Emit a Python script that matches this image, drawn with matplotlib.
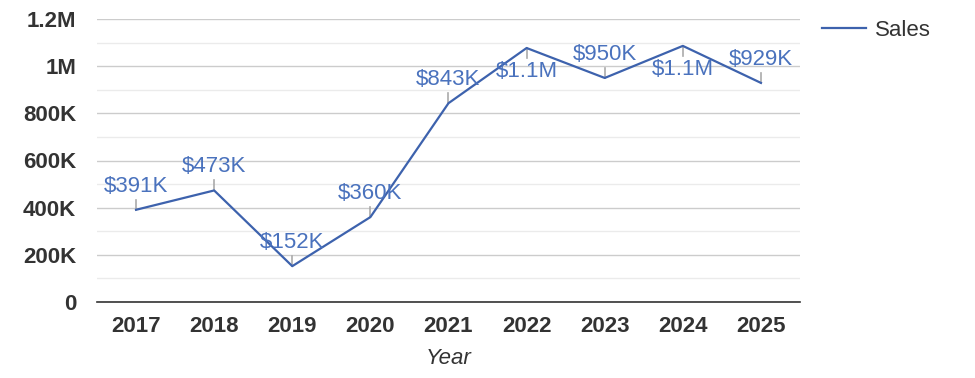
import matplotlib
matplotlib.use("Agg")
import matplotlib.pyplot as plt
from matplotlib.ticker import MultipleLocator

years = ["2017", "2018", "2019", "2020", "2021", "2022", "2023", "2024", "2025"]
sales = [391000, 473000, 152000, 360000, 843000, 1077000, 950000, 1086000, 929000]
y_ticks = [0, 200000, 400000, 600000, 800000, 1000000, 1200000]
y_tick_labels = ["0", "200K", "400K", "600K", "800K", "1M", "1.2M"]

plt.rcParams['font.family'] = ['Liberation Sans', 'DejaVu Sans']

LINE = "#3d62ad"
LABEL = "#4a72bd"
W, H = 975, 378
fig = plt.figure(figsize=(W / 100, H / 100), dpi=100)
ax = fig.add_axes([97 / W, 1 - 302 / H, (800 - 97) / W, (302 - 19) / H])

x = list(range(len(years)))
ax.plot(x, sales, color=LINE, lw=1.6, label="Sales", zorder=3)

def fmt(v):
    if v >= 1_000_000:
        return f"${v / 1e6:.1f}M"
    return f"${v / 1000:.0f}K"

px = 1.2e6 / 283  # data units per pixel
for xi, v in zip(x, sales):
    below = v > 1.05e6
    d = -1 if below else 1
    ax.plot([xi, xi], [v, v + d * 10 * px], color="#aaaaaa", lw=1.2, zorder=2)
    ax.text(xi, v + d * 13 * px, fmt(v), color=LABEL, fontsize=16,
            ha="center", va="top" if below else "bottom", zorder=4)

ax.set_xlim(-0.5, len(years) - 0.5)
ax.set_ylim(0, 1.2e6)
ax.set_xticks(x)
ax.set_xticklabels(years)
ax.set_yticks(y_ticks)
ax.set_yticklabels(y_tick_labels)
ax.yaxis.set_minor_locator(MultipleLocator(100000))
ax.grid(axis="y", which="major", color="#cccccc", lw=1)
ax.grid(axis="y", which="minor", color="#ebebeb", lw=1)
ax.set_axisbelow(True)
ax.tick_params(axis="both", which="both", length=0)
ax.tick_params(axis="y", pad=15)
ax.tick_params(axis="x", pad=10)
for lab in ax.get_xticklabels() + ax.get_yticklabels():
    lab.set_fontweight("bold")
    lab.set_fontsize(16)
    lab.set_color("#333333")
for s in ["top", "right", "left"]:
    ax.spines[s].set_visible(False)
ax.spines["bottom"].set_color("#333333")
ax.spines["bottom"].set_linewidth(1.2)
ax.set_xlabel("Year", fontsize=16, style="italic", color="#333333", labelpad=8)

leg = ax.legend(loc="upper left", bbox_to_anchor=(822 / W, 1 - 20 / H),
                bbox_transform=fig.transFigure, frameon=False, fontsize=16,
                handlelength=2.0, handletextpad=0.4, borderpad=0, borderaxespad=0)
for t in leg.get_texts():
    t.set_color("#333333")

fig.savefig("out.png", dpi=100)
